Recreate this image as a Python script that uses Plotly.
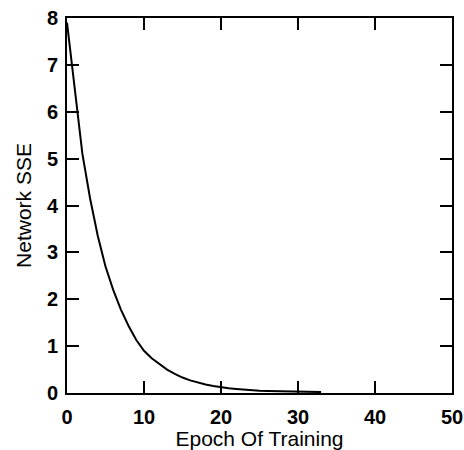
import plotly.graph_objects as go

epochs = list(range(0, 34))
sse = [7.9, 6.5, 5.1, 4.15, 3.35, 2.7, 2.2, 1.78, 1.43, 1.13, 0.9,
       0.74, 0.61, 0.5, 0.41, 0.33, 0.27, 0.22, 0.18, 0.15, 0.12,
       0.1, 0.085, 0.07, 0.06, 0.05, 0.045, 0.04, 0.035, 0.03, 0.028,
       0.025, 0.022, 0.02]
x_ticks = [0, 10, 20, 30, 40, 50]
y_ticks = [0, 1, 2, 3, 4, 5, 6, 7, 8]

fig = go.Figure()
fig.add_trace(go.Scatter(x=epochs, y=sse, mode="lines",
                         line=dict(color="black", width=2)))

fam = "Liberation Sans, Arial, sans-serif"
title_font = dict(family=fam, size=21, color="black")
tick_font = dict(family=fam, size=20, color="black", weight="bold")
axis_common = dict(showgrid=False, zeroline=False, showline=True, linecolor="black",
                   linewidth=2, mirror="ticks", ticks="inside", ticklen=12,
                   tickwidth=2, tickcolor="black", automargin=False,
                   tickfont=tick_font)
fig.update_layout(
    width=464, height=450,
    margin=dict(l=67, r=12, t=18, b=57),
    paper_bgcolor="white", plot_bgcolor="white",
    showlegend=False, font=title_font,
    xaxis=dict(range=[0, 50], tickvals=x_ticks, ticklabelstandoff=5,
               title=dict(text="Epoch Of Training", font=title_font, standoff=7),
               **axis_common),
    yaxis=dict(range=[0, 8], tickvals=y_ticks, ticklabelstandoff=3,
               title=dict(text="Network SSE", font=title_font, standoff=10),
               **axis_common),
)
fig.write_html("out.html", config={"displayModeBar": False},
               post_script="document.body.style.margin='0';")
